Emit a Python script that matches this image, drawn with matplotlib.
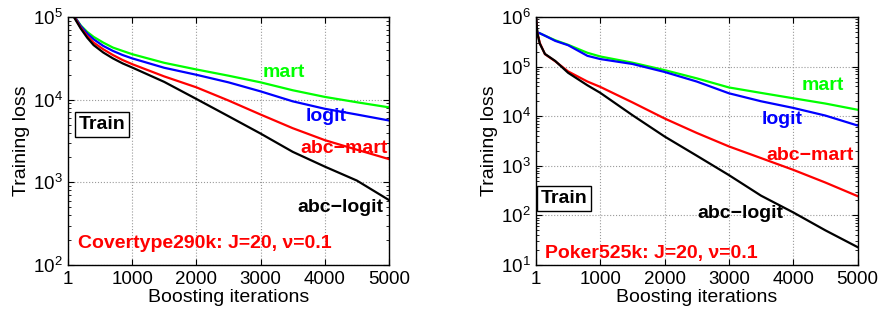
import matplotlib
matplotlib.use("Agg")
import matplotlib.pyplot as plt
from matplotlib.ticker import LogLocator, NullFormatter, FixedLocator

plt.rcParams['font.family'] = ['Liberation Sans', 'DejaVu Sans']
plt.rcParams['mathtext.default'] = 'regular'

# ---- Data: Covertype290k (left) ----
iters_L = [1, 100, 200, 300, 400, 550, 700, 850, 1000, 1500, 2000, 2500, 3000, 3500, 4000, 4500, 5000]
mart_L = [1.29e5, 1.02e5, 7.9e4, 6.6e4, 5.75e4, 4.9e4, 4.27e4, 3.89e4, 3.55e4, 2.79e4, 2.32e4,
          1.95e4, 1.62e4, 1.30e4, 1.08e4, 9.3e3, 8.07e3]
logit_L = [1.29e5, 1.02e5, 7.76e4, 6.31e4, 5.37e4, 4.47e4, 3.89e4, 3.47e4, 3.16e4, 2.43e4, 2.0e4,
           1.62e4, 1.26e4, 9.55e3, 7.76e3, 6.61e3, 5.6e3]
abcmart_L = [1.32e5, 1.0e5, 7.41e4, 5.89e4, 4.9e4, 4.07e4, 3.47e4, 3.02e4, 2.69e4, 1.91e4, 1.41e4,
             9.77e3, 6.61e3, 4.52e3, 3.24e3, 2.48e3, 1.91e3]
abclogit_L = [1.35e5, 9.77e4, 7.24e4, 5.62e4, 4.57e4, 3.72e4, 3.16e4, 2.75e4, 2.45e4, 1.64e4, 1.02e4,
              6.31e3, 3.89e3, 2.34e3, 1.55e3, 1.05e3, 6.1e2]

# ---- Data: Poker525k (right) ----
iters_R = [1, 20, 60, 140, 300, 500, 800, 1000, 1500, 2000, 2500, 3000, 3500, 4000, 4500, 5000]
mart_R = [1e6, 4.9e5, 4.7e5, 4.2e5, 3.4e5, 2.75e5, 1.9e5, 1.6e5, 1.2e5, 8.5e4, 5.8e4, 3.8e4, 2.95e4, 2.3e4, 1.8e4, 1.35e4]
logit_R = [1e6, 4.9e5, 4.7e5, 4.2e5, 3.3e5, 2.7e5, 1.65e5, 1.42e5, 1.13e5, 7.8e4, 5.0e4, 2.9e4, 2.0e4, 1.47e4, 1.03e4, 6.5e3]
abcmart_R = [1e6, 4.9e5, 3.0e5, 1.78e5, 1.28e5, 8.0e4, 5.0e4, 3.9e4, 1.9e4, 9.0e3, 4.6e3, 2.46e3, 1.43e3, 8.3e2, 4.6e2, 2.45e2]
abclogit_R = [1e6, 4.9e5, 2.9e5, 1.8e5, 1.3e5, 7.5e4, 4.2e4, 2.96e4, 1.05e4, 3.9e3, 1.6e3, 6.5e2, 2.5e2, 1.15e2, 50, 23]

xticks = [1, 1000, 2000, 3000, 4000, 5000]
xtick_labels = ['1', '1000', '2000', '3000', '4000', '5000']

GREEN, BLUE, RED, BLACK = '#00ff00', '#0000ff', '#ff0000', '#000000'
FS = 14

fig = plt.figure(figsize=(8.8, 3.16), dpi=100)
axL = fig.add_axes([68/880, 51/316, 321/880, 248/316])
axR = fig.add_axes([536/880, 51/316, 321.5/880, 248/316])

def style(ax, ylim):
    ax.set_yscale('log')
    ax.set_xlim(1, 5000)
    ax.set_ylim(*ylim)
    ax.xaxis.set_major_locator(FixedLocator(xticks))
    ax.set_xticklabels(xtick_labels)
    ax.yaxis.set_major_locator(LogLocator(base=10, numticks=10))
    ax.yaxis.set_minor_locator(LogLocator(base=10, subs=range(2, 10), numticks=20))
    ax.yaxis.set_minor_formatter(NullFormatter())
    ax.tick_params(which='both', direction='in', top=True, right=True, labelsize=13.5)
    ax.tick_params(which='major', length=4, pad=4)
    ax.tick_params(which='minor', length=2)
    ax.grid(True, which='major', linestyle=':', color='#9a9a9a', linewidth=0.8)
    for s in ax.spines.values():
        s.set_linewidth(1.0)
    ax.set_xlabel('Boosting iterations', fontsize=FS, labelpad=1)
    ax.set_ylabel('Training loss', fontsize=FS, labelpad=2)

for ax, it, m, l, am, al in [(axL, iters_L, mart_L, logit_L, abcmart_L, abclogit_L),
                              (axR, iters_R, mart_R, logit_R, abcmart_R, abclogit_R)]:
    ax.plot(it, m, color=GREEN, lw=1.6)
    ax.plot(it, l, color=BLUE, lw=1.6)
    ax.plot(it, am, color=RED, lw=1.6)
    ax.plot(it, al, color=BLACK, lw=1.6)

style(axL, (1e2, 1e5))
style(axR, (1e1, 1e6))

def label(ax, x, y, s, c, ha='center'):
    ax.text(x, y, s, color=c, fontsize=FS, fontweight='bold', ha=ha, va='baseline',
            transform=ax.transAxes)

# Left annotations
label(axL, 0.673, 0.759, 'mart', GREEN)
label(axL, 0.805, 0.582, 'logit', BLUE)
label(axL, 0.861, 0.452, 'abc\u2212mart', RED)
label(axL, 0.850, 0.215, 'abc\u2212logit', BLACK)
axL.text(0.106, 0.548, 'Train', fontsize=FS, fontweight='bold', ha='center', va='baseline',
         transform=axL.transAxes,
         bbox=dict(boxstyle='square,pad=0.2', fc='white', ec='black', lw=1.0))
label(axL, 0.032, 0.067, 'Covertype290k: J=20, \u03bd=0.1', RED, ha='left')

# Right annotations
label(axR, 0.892, 0.706, 'mart', GREEN)
label(axR, 0.765, 0.567, 'logit', BLUE)
label(axR, 0.854, 0.423, 'abc\u2212mart', RED)
label(axR, 0.635, 0.188, 'abc\u2212logit', BLACK)
axR.text(0.087, 0.249, 'Train', fontsize=FS, fontweight='bold', ha='center', va='baseline',
         transform=axR.transAxes,
         bbox=dict(boxstyle='square,pad=0.2', fc='white', ec='black', lw=1.0))
label(axR, 0.028, 0.029, 'Poker525k: J=20, \u03bd=0.1', RED, ha='left')

fig.savefig('out.png', dpi=100)
